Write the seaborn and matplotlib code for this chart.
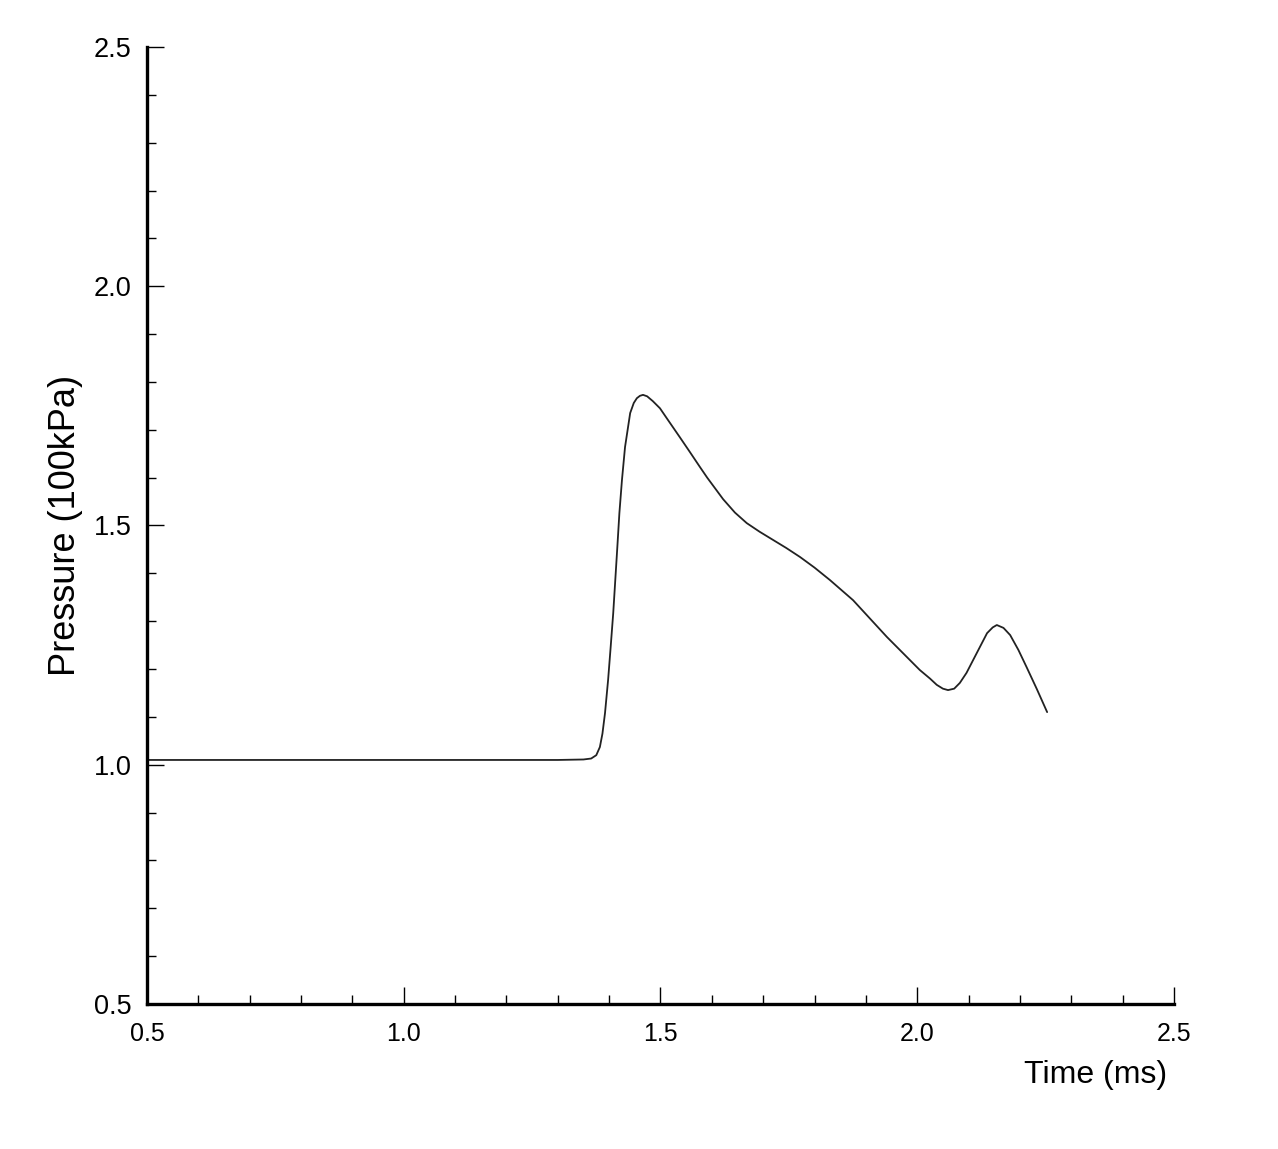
import matplotlib
matplotlib.use("Agg")
import matplotlib.pyplot as plt
from matplotlib.ticker import MultipleLocator, FormatStrFormatter
import seaborn as sns
import pandas as pd

time_ms = [0.500, 0.800, 1.100, 1.300, 1.350, 1.365, 1.375, 1.382, 1.387, 1.392,
           1.398, 1.403, 1.408, 1.412, 1.416, 1.420, 1.425, 1.431, 1.441, 1.448,
           1.454, 1.460, 1.466, 1.474, 1.485, 1.499, 1.513, 1.538, 1.557, 1.577,
           1.591, 1.622, 1.645, 1.668, 1.693, 1.719, 1.745, 1.772, 1.800, 1.830,
           1.875, 1.941, 2.005, 2.025, 2.038, 2.050, 2.060, 2.072, 2.083, 2.096,
           2.109, 2.136, 2.147, 2.155, 2.168, 2.181, 2.197, 2.213, 2.233, 2.253]
pressure = [1.010, 1.010, 1.010, 1.010, 1.011, 1.013, 1.020, 1.037, 1.065, 1.108,
            1.177, 1.246, 1.317, 1.386, 1.455, 1.526, 1.595, 1.664, 1.735, 1.756,
            1.766, 1.771, 1.773, 1.770, 1.760, 1.745, 1.723, 1.684, 1.654, 1.622,
            1.600, 1.555, 1.527, 1.505, 1.487, 1.470, 1.453, 1.434, 1.412, 1.386,
            1.344, 1.267, 1.198, 1.180, 1.167, 1.159, 1.156, 1.159, 1.171, 1.192,
            1.219, 1.275, 1.287, 1.292, 1.286, 1.271, 1.240, 1.204, 1.158, 1.110]

df = pd.DataFrame({"Time": time_ms, "Pressure": pressure})

sns.set_theme(style="white")
plt.rcParams['font.family'] = ['Liberation Sans', 'DejaVu Sans']

fig = plt.figure(figsize=(12.78, 11.49), dpi=100)
ax = fig.add_axes([0.115, 0.1262, 0.8036, 0.8329])

sns.lineplot(data=df, x="Time", y="Pressure", ax=ax, color="#222222",
             linewidth=1.3, estimator=None, sort=False)

ax.set_xlim(0.5, 2.5)
ax.set_ylim(0.5, 2.5)
ax.xaxis.set_major_locator(MultipleLocator(0.5))
ax.xaxis.set_minor_locator(MultipleLocator(0.1))
ax.yaxis.set_major_locator(MultipleLocator(0.5))
ax.yaxis.set_minor_locator(MultipleLocator(0.1))
ax.xaxis.set_major_formatter(FormatStrFormatter('%.1f'))
ax.yaxis.set_major_formatter(FormatStrFormatter('%.1f'))

for s in ["top", "right"]:
    ax.spines[s].set_visible(False)
for s in ["left", "bottom"]:
    ax.spines[s].set_linewidth(2.4)
    ax.spines[s].set_color("black")

ax.tick_params(axis="both", which="major", direction="in", length=12, width=1,
               color="black", labelcolor="black")
ax.tick_params(axis="both", which="minor", direction="in", length=6.5, width=1,
               color="black")
ax.tick_params(axis="x", which="major", pad=13, bottom=True, labelsize=18)
ax.tick_params(axis="x", which="minor", bottom=True)
ax.tick_params(axis="y", which="major", pad=11, left=True, labelsize=19.5)
ax.tick_params(axis="y", which="minor", left=True)

ax.set_xlabel("")
ax.set_ylabel("Pressure (100kPa)", fontsize=26, color="black", labelpad=8)
fig.text(1167 / 1278, 1 - 1075 / 1149, "Time (ms)", fontsize=23, color="black",
         ha="right", va="center")

fig.savefig("out.png", dpi=100, facecolor="white")
